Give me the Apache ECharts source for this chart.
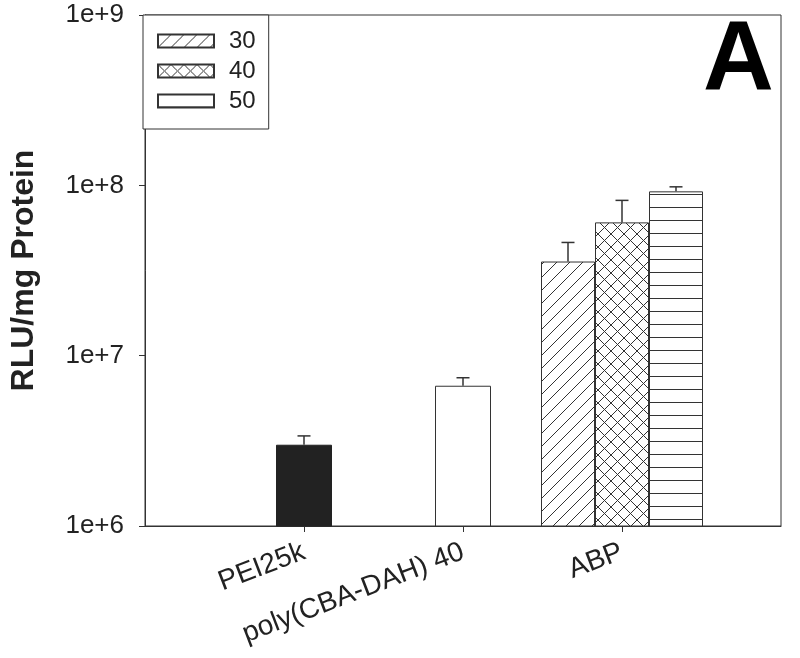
<!DOCTYPE html>
<html>
<head>
<meta charset="utf-8">
<script src="https://cdn.jsdelivr.net/npm/echarts@6/dist/echarts.min.js"></script>
<style>
html,body{margin:0;padding:0;background:#fff;}
#chart{width:800px;height:658px;}
</style>
</head>
<body>
<div id="chart"></div>
<script>
// ---- data ----
const categories = ['', 'PEI25k', 'poly(CBA-DAH) 40', 'ABP', ''];
const controlValues = [null, 3.0e6, 6.66e6, null, null];
const controlErrTop = [null, 3.38e6, 7.42e6, null, null];
const abpNames = ['30', '40', '50'];
const abp30 = [null, null, null, 3.57e7, null];
const abp40 = [null, null, null, 6.06e7, null];
const abp50 = [null, null, null, 9.22e7, null];
const abpErrTop = [4.62e7, 8.16e7, 9.8e7];
const yTicks = ['1e+6', '1e+7', '1e+8', '1e+9'];

// ---- patterns ----
const LINE = '#333';
function tile(draw) {
  const s = 13;
  const c = document.createElement('canvas');
  c.width = s; c.height = s;
  const g = c.getContext('2d');
  g.fillStyle = '#fff';
  g.fillRect(0, 0, s, s);
  g.strokeStyle = LINE;
  g.fillStyle = LINE;
  g.lineWidth = 1;
  draw(g, s);
  return { image: c, repeat: 'repeat' };
}
const patDiag = tile((g, s) => {
  g.beginPath();
  for (const o of [-s, 0, s]) { g.moveTo(o, s); g.lineTo(o + s, 0); }
  g.stroke();
});
const patCross = tile((g, s) => {
  g.beginPath();
  for (const o of [-s, 0, s]) {
    g.moveTo(o, s); g.lineTo(o + s, 0);
    g.moveTo(o, 0); g.lineTo(o + s, s);
  }
  g.stroke();
});
const patHoriz = tile((g, s) => { g.fillRect(0, s - 1, s, 1); });

const BAR_W = 54;
const FONT = 'Liberation Sans, Arial, sans-serif';

// error bar data: [categoryIndex, barValue, errTop, slotOffset]
const errData = [];
controlValues.forEach((v, i) => { if (v != null) errData.push([i, v, controlErrTop[i], 0]); });
[abp30, abp40, abp50].forEach((arr, k) => {
  arr.forEach((v, i) => { if (v != null) errData.push([i, v, abpErrTop[k], k - 1]); });
});

const chart = echarts.init(document.getElementById('chart'));
const option = {
  animation: false,
  backgroundColor: '#fff',
  grid: { left: 143, top: 15, right: 19, bottom: 132, show: true, borderColor: LINE, borderWidth: 1 },
  legend: {
    data: abpNames,
    orient: 'vertical',
    left: 143, top: 15,
    padding: [14, 13, 16, 14],
    itemGap: 6,
    itemWidth: 56, itemHeight: 13,
    icon: 'rect',
    borderColor: LINE, borderWidth: 1, backgroundColor: '#fff',
    textStyle: { fontSize: 24, color: '#222', fontFamily: FONT, padding: [0, 0, 0, 10] }
  },
  xAxis: [{
    type: 'category', data: categories, boundaryGap: false,
    axisLine: { lineStyle: { color: LINE } },
    axisTick: { length: 6, interval: (i) => i > 0 && i < categories.length - 1, lineStyle: { color: LINE } },
    axisLabel: { interval: 0, rotate: 21, margin: 25, fontSize: 28, color: '#222', fontFamily: FONT },
    splitLine: { show: false }
  }, {
    type: 'category', data: categories, boundaryGap: false, show: false
  }],
  yAxis: {
    type: 'log', logBase: 10, min: 1e6, max: 1e9,
    name: 'RLU/mg Protein', nameLocation: 'middle', nameGap: 105,
    nameTextStyle: { fontSize: 32, fontWeight: 'bold', color: '#222', fontFamily: FONT },
    axisLine: { show: true, lineStyle: { color: LINE } },
    axisTick: { show: true, length: 6, lineStyle: { color: LINE } },
    axisLabel: {
      margin: 21, fontSize: 26, color: '#222', fontFamily: FONT,
      formatter: (v) => yTicks[Math.round(Math.log10(v)) - 6] || ''
    },
    splitLine: { show: false }, minorTick: { show: false }
  },
  series: [
    {
      name: 'controls', type: 'bar', xAxisIndex: 0, barWidth: 56,
      data: controlValues.map((v, i) => v == null ? null : {
        value: v,
        itemStyle: i === 1 ? { color: '#222', borderColor: '#222' } : { color: '#fff', borderColor: LINE }
      }),
      itemStyle: { borderWidth: 1 }
    },
    { name: '30', type: 'bar', xAxisIndex: 1, barWidth: BAR_W, barGap: '0%', data: abp30,
      itemStyle: { color: patDiag, borderColor: LINE, borderWidth: 1 } },
    { name: '40', type: 'bar', xAxisIndex: 1, barWidth: BAR_W, barGap: '0%', data: abp40,
      itemStyle: { color: patCross, borderColor: LINE, borderWidth: 1 } },
    { name: '50', type: 'bar', xAxisIndex: 1, barWidth: BAR_W, barGap: '0%', data: abp50,
      itemStyle: { color: patHoriz, borderColor: LINE, borderWidth: 1 } },
    {
      name: 'err', type: 'custom', xAxisIndex: 0, data: errData, z: 5,
      renderItem: (params, api) => {
        const base = api.coord([api.value(0), api.value(1)]);
        const top = api.coord([api.value(0), api.value(2)]);
        const x = base[0] + api.value(3) * BAR_W;
        const hw = 6.5;
        const st = { stroke: LINE, lineWidth: 1.5 };
        return {
          type: 'group', children: [
            { type: 'line', shape: { x1: x, y1: base[1], x2: x, y2: top[1] }, style: st },
            { type: 'line', shape: { x1: x - hw, y1: top[1], x2: x + hw, y2: top[1] }, style: st }
          ]
        };
      }
    }
  ],
  graphic: [{
    type: 'text', left: 703, top: 13,
    style: { text: 'A', fontSize: 98, fontWeight: 'bold', fill: '#000', fontFamily: FONT }
  }]
};
chart.setOption(option);
</script>
</body>
</html>
